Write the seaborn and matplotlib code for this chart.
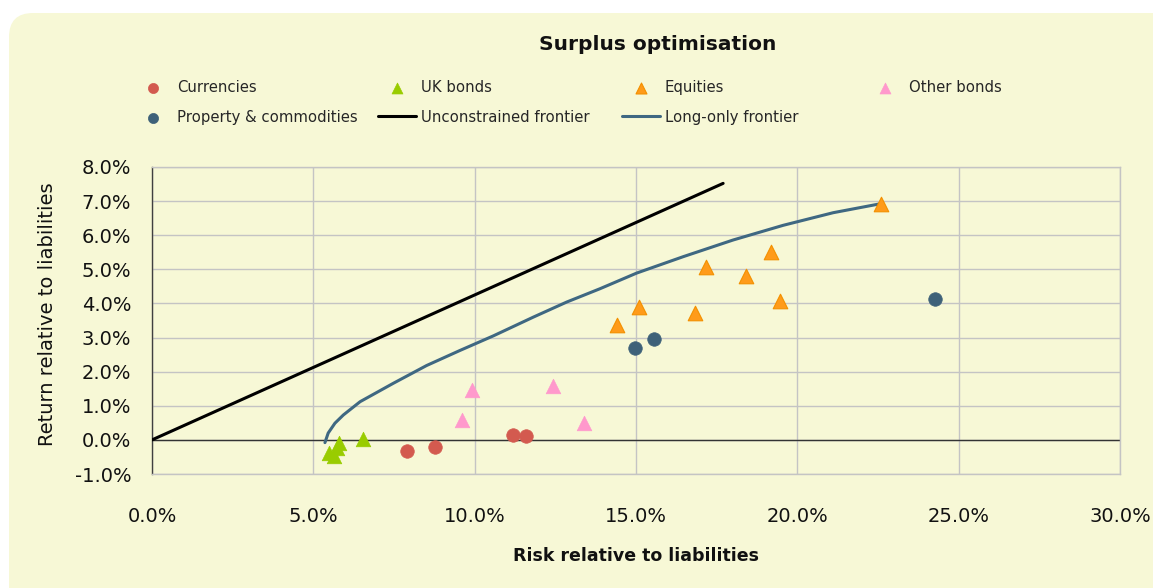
import matplotlib
matplotlib.use("Agg")
import matplotlib.pyplot as plt
from matplotlib.patches import FancyBboxPatch
from matplotlib.transforms import IdentityTransform
from matplotlib.ticker import PercentFormatter, MultipleLocator
import seaborn as sns

# ---- data (percent) ----
currencies_x = [7.90, 8.77, 11.19, 11.59]
currencies_y = [-0.32, -0.21, 0.15, 0.12]

ukbonds_x = [5.49, 5.65, 5.72, 5.80, 6.55]
ukbonds_y = [-0.37, -0.47, -0.25, -0.10, 0.02]

equities_x = [14.41, 15.10, 16.84, 17.16, 18.41, 19.17, 19.46, 22.60]
equities_y = [3.37, 3.91, 3.72, 5.08, 4.79, 5.50, 4.08, 6.92]

otherbonds_x = [9.62, 9.91, 12.43, 13.40]
otherbonds_y = [0.57, 1.47, 1.58, 0.49]

property_x = [14.96, 15.56, 24.26]
property_y = [2.69, 2.96, 4.13]

unconstrained_x = [0.0, 17.7]
unconstrained_y = [0.0, 7.52]

longonly_x = [5.36, 5.46, 5.67, 5.93, 6.45, 7.48, 8.51, 9.54, 10.58, 11.82,
              12.85, 13.88, 15.02, 16.46, 18.01, 19.56, 21.11, 22.56]
longonly_y = [-0.08, 0.20, 0.49, 0.73, 1.12, 1.66, 2.18, 2.62, 3.05, 3.60,
              4.04, 4.43, 4.89, 5.37, 5.86, 6.29, 6.66, 6.92]

title = "Surplus optimisation"
xlabel = "Risk relative to liabilities"
ylabel = "Return relative to liabilities"

BG = "#F7F8D6"
W, H = 1153, 588

sns.set_style("white")
plt.rcParams["font.family"] = ["DejaVu Sans"]
plt.rcParams["axes.unicode_minus"] = False

fig = plt.figure(figsize=(W / 100, H / 100), dpi=100)
fig.patch.set_facecolor("white")

panel = FancyBboxPatch((9, -60), 1300, 588 - 13 + 60,
                       boxstyle="round,pad=0,rounding_size=24",
                       transform=IdentityTransform(), facecolor=BG,
                       edgecolor="none", zorder=-10)
fig.patches.append(panel)

ax = fig.add_axes([152 / W, 1 - 474 / H, (1120 - 152) / W, (474 - 167) / H])
ax.set_facecolor(BG)

sns.scatterplot(x=currencies_x, y=currencies_y, ax=ax, marker="o", s=95,
                color="#D35A4F", edgecolor="#D35A4F", linewidth=0.5,
                label="Currencies", zorder=5)
sns.scatterplot(x=ukbonds_x, y=ukbonds_y, ax=ax, marker="^", s=110,
                color="#99CC00", edgecolor="#99CC00", linewidth=0.5,
                label="UK bonds", zorder=5)
sns.scatterplot(x=equities_x, y=equities_y, ax=ax, marker="^", s=110,
                color="#FF9B1A", edgecolor="#F39000", linewidth=0.8,
                label="Equities", zorder=5)
sns.scatterplot(x=otherbonds_x, y=otherbonds_y, ax=ax, marker="^", s=110,
                color="#FF99CC", edgecolor="#FF99CC", linewidth=0.5,
                label="Other bonds", zorder=5)
sns.scatterplot(x=property_x, y=property_y, ax=ax, marker="o", s=95,
                color="#3E6179", edgecolor="#3E6179", linewidth=0.5,
                label="Property & commodities", zorder=5)
sns.lineplot(x=unconstrained_x, y=unconstrained_y, ax=ax, color="black",
             linewidth=2.2, label="Unconstrained frontier", sort=False,
             estimator=None, zorder=4)
sns.lineplot(x=longonly_x, y=longonly_y, ax=ax, color="#3F6882",
             linewidth=2.2, label="Long-only frontier", sort=False,
             estimator=None, zorder=4)

if ax.get_legend() is not None:
    ax.get_legend().remove()

ax.set_xlim(0, 30)
ax.set_ylim(-1, 8)
ax.xaxis.set_major_locator(MultipleLocator(5))
ax.yaxis.set_major_locator(MultipleLocator(1))
ax.xaxis.set_major_formatter(PercentFormatter(xmax=100, decimals=1))
ax.yaxis.set_major_formatter(PercentFormatter(xmax=100, decimals=1))
ax.grid(True, color="#C4C4C4", linewidth=1.0)
ax.set_axisbelow(True)
ax.axhline(0, color="#333333", linewidth=1.0, zorder=2)
ax.tick_params(axis="both", length=0, labelsize=14, colors="#111111")
ax.tick_params(axis="x", pad=24)
ax.tick_params(axis="y", pad=15)
for side in ["top", "right", "bottom"]:
    ax.spines[side].set_color("#C4C4C4")
    ax.spines[side].set_linewidth(1.0)
ax.spines["left"].set_color("#404040")
ax.spines["left"].set_linewidth(1.0)

ax.set_xlabel(xlabel, fontsize=12.5, fontweight="bold", color="#111111")
ax.set_ylabel(ylabel, fontsize=14, color="#111111")
ax.xaxis.set_label_coords(0.5, -0.238)
ax.yaxis.set_label_coords(-0.098, 0.52)

fig.text(658 / W, 1 - 45 / H, title, ha="center", va="center",
         fontsize=14.5, fontweight="bold", color="#111111")

# legends: 4 columns
handles, labels = ax.get_legend_handles_labels()
hmap = dict(zip(labels, handles))
cols = [["Currencies", "Property & commodities"],
        ["UK bonds", "Unconstrained frontier"],
        ["Equities", "Long-only frontier"],
        ["Other bonds"]]
fs = 10.7
fspx = fs * 100 / 72
text_x = [177, 421, 665, 909]
for labs, tx in zip(cols, text_x):
    ax_x = tx - 43
    fig.legend([hmap[l] for l in labs], labs, loc="upper left",
               bbox_to_anchor=(ax_x, 588 - 80), bbox_transform=IdentityTransform(),
               frameon=False, fontsize=fs, borderpad=0, borderaxespad=0,
               handlelength=38 / fspx, handletextpad=5 / fspx,
               labelspacing=0.98, markerscale=0.75)

fig.savefig("out.png", dpi=100, facecolor="white")
